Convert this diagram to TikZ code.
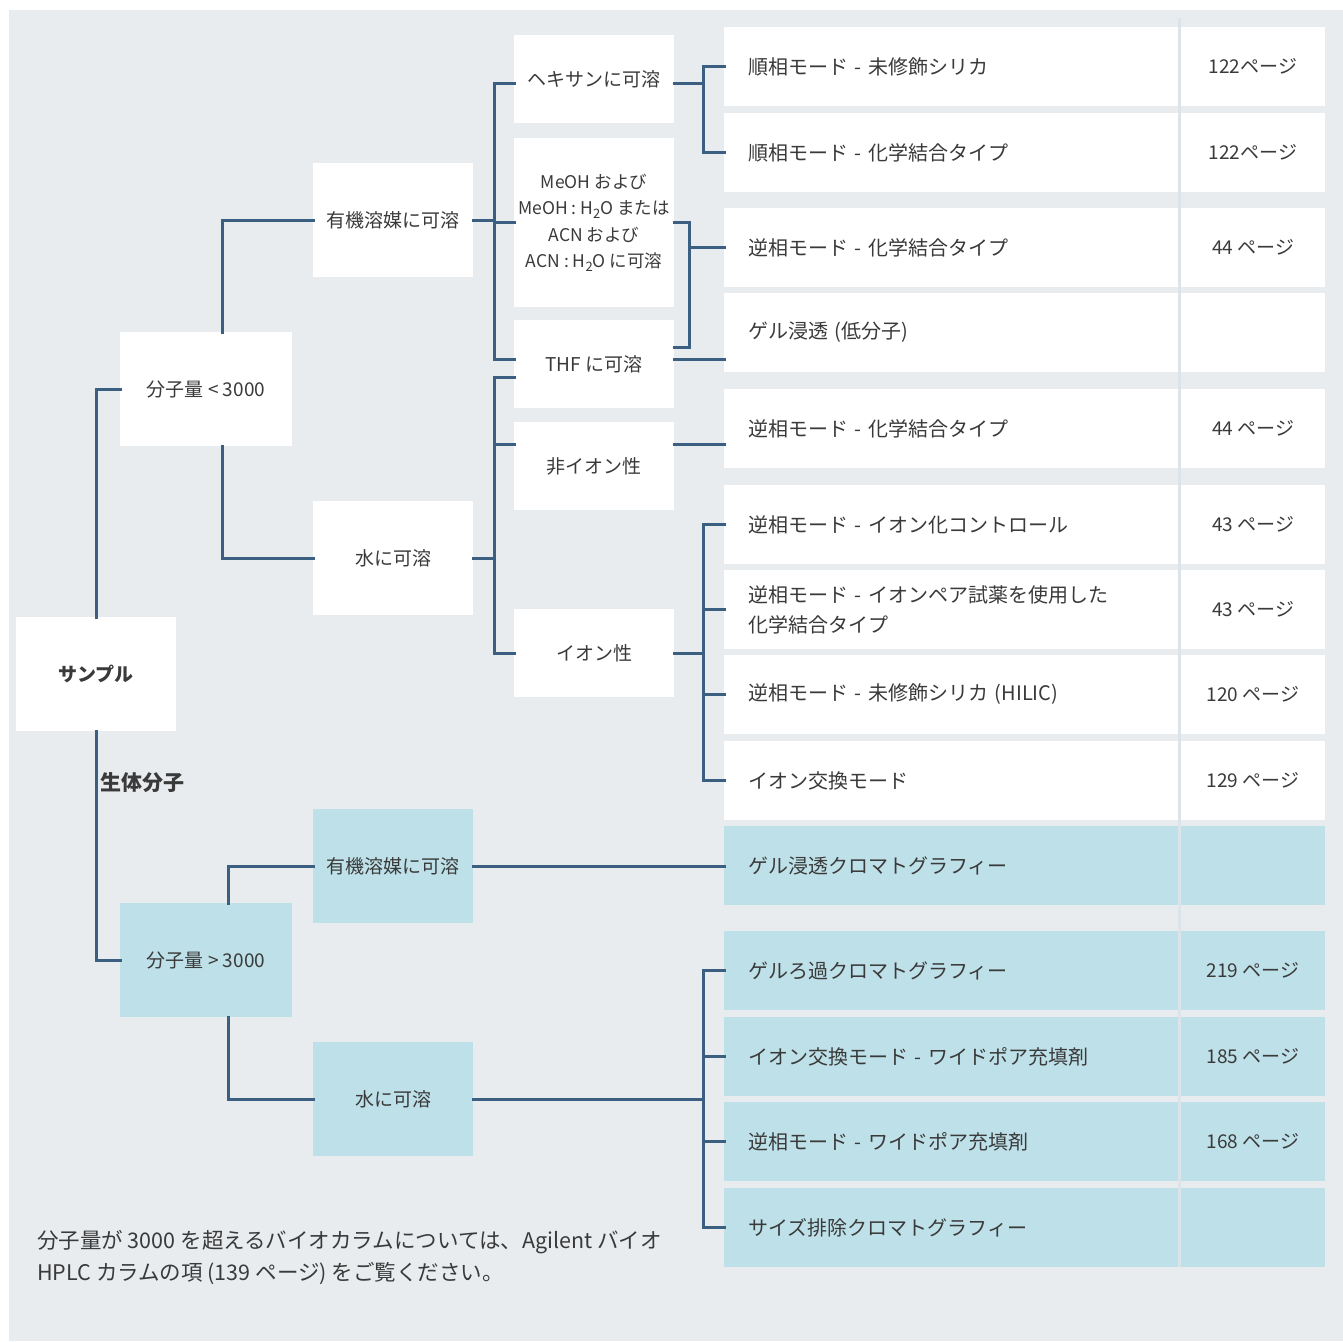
\documentclass[tikz,border=0pt]{standalone}
\usepackage{fontspec}
\setmainfont{Noto Sans CJK JP}
\usetikzlibrary{calc}
\definecolor{bgc}{HTML}{E8ECEF}
\definecolor{bluec}{HTML}{BEE0E8}
\definecolor{linec}{HTML}{3A5F80}
\definecolor{txtc}{HTML}{3A3A3A}
\definecolor{divc}{HTML}{DDE4E9}
\newcommand{\sbs}[1]{\raisebox{-0.4ex}{\fontsize{13}{13}\selectfont #1}}
\begin{document}
\begin{tikzpicture}[x=1pt,y=-1pt,
  every node/.style={font=\fontsize{19}{26.5}\selectfont, text=txtc},
  box/.style={rectangle, inner sep=0pt, outer sep=0pt, align=center, fill=white},
  bbox/.style={box, fill=bluec},
  rowbox/.style={rectangle, inner xsep=24pt, inner ysep=0pt, outer sep=0pt, text width=406pt, align=left, minimum height=79pt, fill=white, font=\fontsize{20}{30}\selectfont},
  browbox/.style={rowbox, fill=bluec},
  pgbox/.style={rectangle, inner sep=0pt, outer sep=0pt, minimum width=144pt, minimum height=79pt, fill=white},
  bpgbox/.style={pgbox, fill=bluec},
  conn/.style={draw=linec, line width=3pt, line cap=rect, line join=miter}
]
\useasboundingbox (0,0) rectangle (1343,1341);
\fill[bgc] (9,10) rectangle (1343,1341);
\fill[divc] (1178,18) rectangle (1181,1267);

% left boxes
\node[box, minimum width=160pt, minimum height=114pt, font=\bfseries\fontsize{19}{19}\selectfont] (sample) at (96,674) {サンプル};
\node[box, minimum width=172pt, minimum height=114pt] (lt) at (206,389) {分子量 < 3000};
\node[box, minimum width=160pt, minimum height=114pt] (org1) at (393,220) {有機溶媒に可溶};
\node[box, minimum width=160pt, minimum height=114pt] (wat1) at (393,558) {水に可溶};
\node[box, minimum width=160pt, minimum height=88pt] (hex) at (594,79) {\raisebox{-2pt}{ヘキサンに可溶}};
\node[box, minimum width=160pt, minimum height=169pt, font=\fontsize{17.5}{26.5}\selectfont] (meoh) at (594,222.5) {MeOH および\\MeOH : H\sbs{2}O または\\ACN および\\ACN : H\sbs{2}O に可溶};
\node[box, minimum width=160pt, minimum height=88pt] (thf) at (594,364) {\raisebox{-2pt}{THF に可溶}};
\node[box, minimum width=160pt, minimum height=88pt] (nonion) at (594,466) {非イオン性};
\node[box, minimum width=160pt, minimum height=88pt] (ion) at (594,653) {イオン性};
\node[bbox, minimum width=172pt, minimum height=114pt] (gt) at (206,960) {分子量 > 3000};
\node[bbox, minimum width=160pt, minimum height=114pt] (org2) at (393,866) {有機溶媒に可溶};
\node[bbox, minimum width=160pt, minimum height=114pt] (wat2) at (393,1099) {水に可溶};

\node[anchor=west, inner sep=0pt, font=\bfseries\fontsize{21}{21}\selectfont] (bio) at (100,783) {生体分子};

% right rows
\node[rowbox] (r1) at (951,66.5) {順相モード - 未修飾シリカ};
\node[pgbox] (p1) at (1253,66.5) {122ページ};
\node[rowbox] (r2) at (951,152.5) {順相モード - 化学結合タイプ};
\node[pgbox] (p2) at (1253,152.5) {122ページ};
\node[rowbox] (r3) at (951,247.5) {逆相モード - 化学結合タイプ};
\node[pgbox] (p3) at (1253,247.5) {44 ページ};
\node[rowbox] (r4) at (951,332.5) {ゲル浸透 (低分子)};
\node[pgbox] (p4) at (1253,332.5) {};
\node[rowbox] (r5) at (951,428.5) {逆相モード - 化学結合タイプ};
\node[pgbox] (p5) at (1253,428.5) {44 ページ};
\node[rowbox] (r6) at (951,524.5) {逆相モード - イオン化コントロール};
\node[pgbox] (p6) at (1253,524.5) {43 ページ};
\node[rowbox] (r7) at (951,609.5) {逆相モード - イオンペア試薬を使用した\\化学結合タイプ};
\node[pgbox] (p7) at (1253,609.5) {43 ページ};
\node[rowbox] (r8) at (951,694.5) {逆相モード - 未修飾シリカ (HILIC)};
\node[pgbox] (p8) at (1253,694.5) {\raisebox{-4pt}{120 ページ}};
\node[rowbox] (r9) at (951,780.5) {イオン交換モード};
\node[pgbox] (p9) at (1253,780.5) {129 ページ};
\node[browbox] (r10) at (951,865.5) {ゲル浸透クロマトグラフィー};
\node[bpgbox] (p10) at (1253,865.5) {};
\node[browbox] (r11) at (951,970.5) {ゲルろ過クロマトグラフィー};
\node[bpgbox] (p11) at (1253,970.5) {\raisebox{-3pt}{219 ページ}};
\node[browbox] (r12) at (951,1056.5) {イオン交換モード - ワイドポア充填剤};
\node[bpgbox] (p12) at (1253,1056.5) {185 ページ};
\node[browbox] (r13) at (951,1141.5) {逆相モード - ワイドポア充填剤};
\node[bpgbox] (p13) at (1253,1141.5) {168 ページ};
\node[browbox] (r14) at (951,1227.5) {サイズ排除クロマトグラフィー};
\node[bpgbox] (p14) at (1253,1227.5) {};

% footnote
\node[anchor=north west, align=left, inner sep=0pt, font=\fontsize{21.5}{32}\selectfont] (note) at (37,1230) {分子量が 3000 を超えるバイオカラムについては、Agilent バイオ\\HPLC カラムの項 (139 ページ) をご覧ください。};

% bus coordinates
\coordinate (b1) at (494,0);
\coordinate (b2) at (703,0);
\coordinate (b3) at (689,0);
\coordinate (ltT) at ([xshift=16pt]lt.north);
\coordinate (ltB) at ([xshift=16pt]lt.south);
\coordinate (gtT) at ([xshift=22pt]gt.north);
\coordinate (gtB) at ([xshift=22pt]gt.south);
\coordinate (hexL) at ([yshift=-4pt]hex.west);
\coordinate (hexR) at ([yshift=-4pt]hex.east);
\coordinate (thfT) at ([yshift=5pt]thf.west);
\coordinate (thfB) at ([yshift=-13pt]thf.west);
\coordinate (thfM) at ([yshift=17pt]thf.east);
\coordinate (nonT) at ([yshift=22pt]nonion.west);

% connectors
\draw[conn] (sample.north) |- (lt.west);
\draw[conn] (sample.south) |- (gt.west);
\draw[conn] (ltT) |- (org1.west);
\draw[conn] (ltB) |- (wat1.west);
\draw[conn] (gtT) |- (org2.west);
\draw[conn] (gtB) |- (wat2.west);

\draw[conn] (org1.east) -- (org1.east -| b1);
\draw[conn] (hexL) -| (b1 |- thfT) -- (thfT);
\draw[conn] (meoh.west -| b1) -- (meoh.west);

\draw[conn] (wat1.east) -- (wat1.east -| b1);
\draw[conn] (thfB) -| (b1 |- ion.west) -- (ion.west);
\draw[conn] (nonT -| b1) -- (nonT);

\draw[conn] (hexR) -- (hexR -| b2);
\draw[conn] (r1.west) -| (b2 |- r2.west) -- (r2.west);

\draw[conn] (meoh.east) -| (b3 |- thfM) -- (thfM);
\draw[conn] (b3 |- r3.west) -- (r3.west);
\draw[conn] (thfT -| thf.east) -- (thfT -| r4.west);
\draw[conn] (nonT -| nonion.east) -- (nonT -| r5.west);

\draw[conn] (ion.east) -- (ion.east -| b2);
\draw[conn] (r6.west) -| (b2 |- r9.west) -- (r9.west);
\draw[conn] (b2 |- r7.west) -- (r7.west);
\draw[conn] (b2 |- r8.west) -- (r8.west);

\draw[conn] (org2.east) -- (org2.east -| r10.west);

\draw[conn] (wat2.east) -- (wat2.east -| b2);
\draw[conn] (r11.west) -| (b2 |- r14.west) -- (r14.west);
\draw[conn] (b2 |- r12.west) -- (r12.west);
\draw[conn] (b2 |- r13.west) -- (r13.west);
\end{tikzpicture}
\end{document}
